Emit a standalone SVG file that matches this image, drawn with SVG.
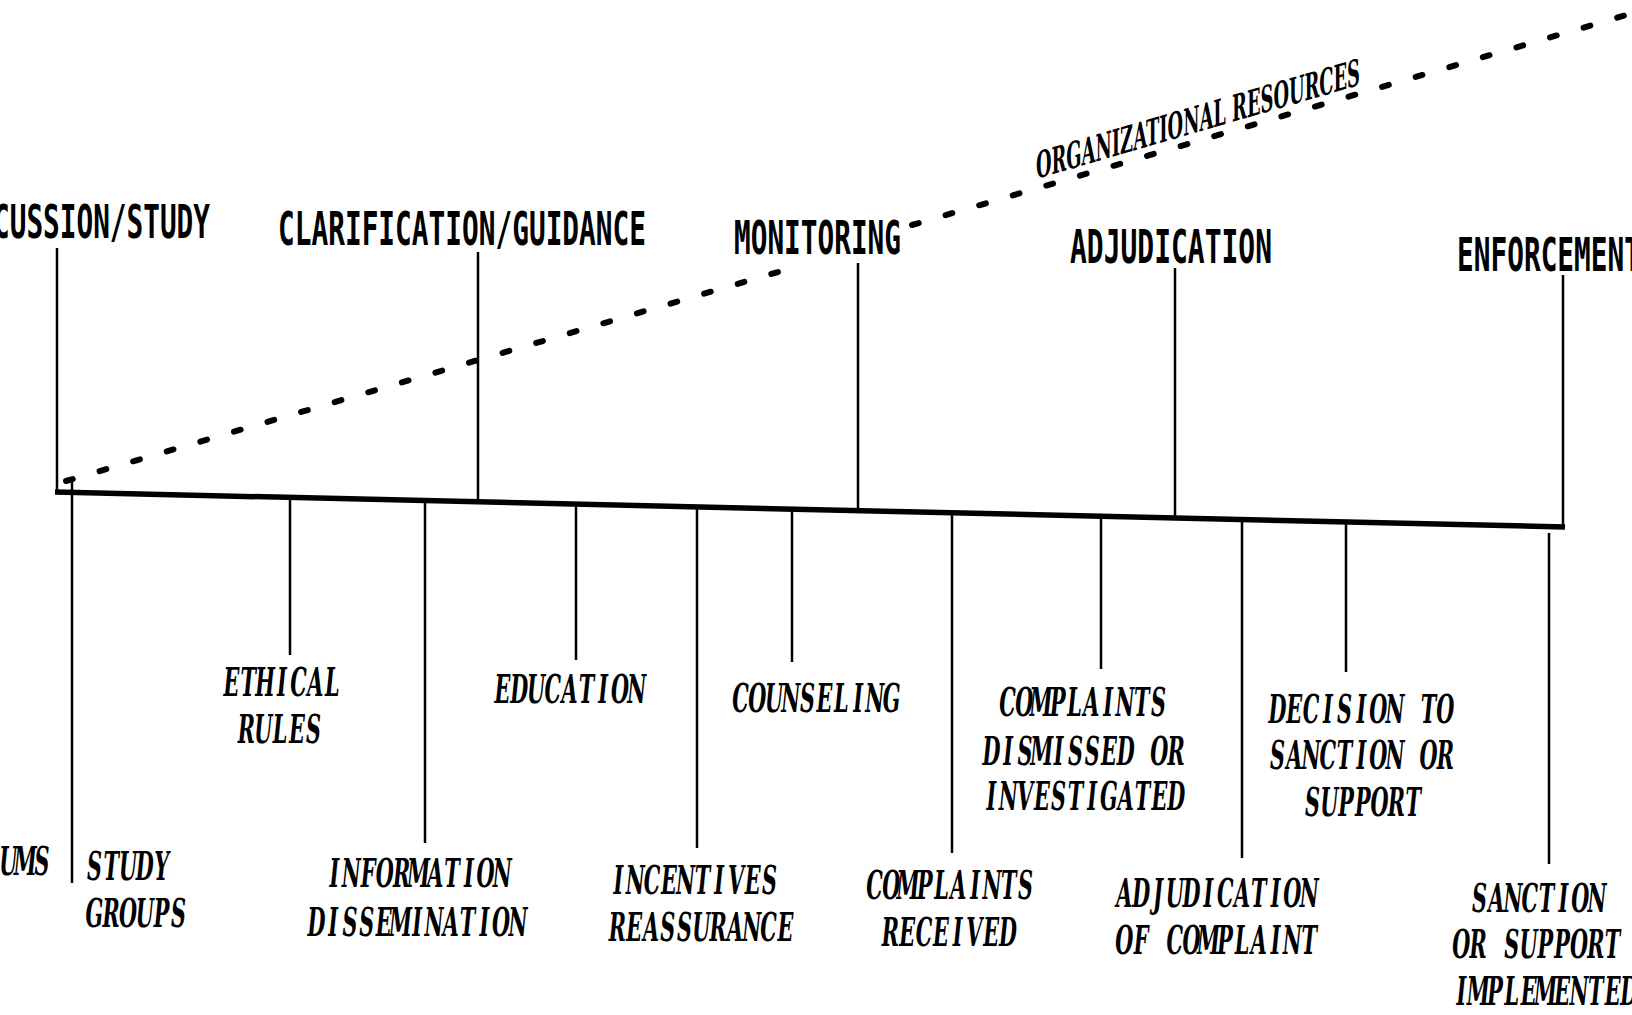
<svg xmlns="http://www.w3.org/2000/svg" width="1632" height="1015" viewBox="0 0 1632 1015">
  <style>
    .hdr { font-family: "DejaVu Sans Mono", "Liberation Mono", monospace; font-weight: bold; font-size: 46px; fill: #000; }
    /* activity labels: serif italic set on a fixed typewriter pitch (one centred cell per letter) */
    .lbl { font-family: "DejaVu Serif", "Liberation Serif", serif; font-style: italic; font-weight: bold; font-size: 40px; fill: #000; text-anchor: middle; }
    .res { font-family: "DejaVu Serif", "Liberation Serif", serif; font-weight: bold; font-size: 37px; fill: #000; }
    .axis { stroke: #000; stroke-width: 5.5; fill: none; }
    .stem { stroke: #000; stroke-width: 2.5; fill: none; }
    .dash { stroke: #000; stroke-width: 6; stroke-dasharray: 7 28; stroke-linecap: round; fill: none; }
  </style>
  <rect width="1632" height="1015" fill="#fff"/>

  <!-- connectors: sloping axis, stems above and below it, resources trend line -->
  <g id="connectors">
    <line class="axis" x1="55" y1="492" x2="1565" y2="527"/>
    <!-- stems up to the stage headings -->
    <line class="stem" x1="57" y1="248" x2="57" y2="494"/>
    <line class="stem" x1="478" y1="252" x2="478" y2="502"/>
    <line class="stem" x1="858" y1="263" x2="858" y2="511"/>
    <line class="stem" x1="1175" y1="268" x2="1175" y2="518"/>
    <line class="stem" x1="1563" y1="275" x2="1563" y2="528"/>
    <!-- stems down to the activities -->
    <line class="stem" x1="72" y1="481" x2="72" y2="883"/>
    <line class="stem" x1="290" y1="497" x2="290" y2="655"/>
    <line class="stem" x1="425" y1="500" x2="425" y2="843"/>
    <line class="stem" x1="576" y1="504" x2="576" y2="660"/>
    <line class="stem" x1="697" y1="507" x2="697" y2="848"/>
    <line class="stem" x1="792" y1="509" x2="792" y2="662"/>
    <line class="stem" x1="952" y1="513" x2="952" y2="853"/>
    <line class="stem" x1="1101" y1="516" x2="1101" y2="669"/>
    <line class="stem" x1="1242" y1="519" x2="1242" y2="858"/>
    <line class="stem" x1="1346" y1="522" x2="1346" y2="672"/>
    <line class="stem" x1="1549" y1="533" x2="1549" y2="864"/>
    <!-- organizational resources trend -->
    <path class="dash" d="M66,481 L778,272"/>
    <path class="dash" d="M912,225 L1640,11"/>
  </g>

  <!-- stage headings -->
  <g id="stage-discussion"><text class="hdr" x="-7" y="238" textLength="217" lengthAdjust="spacingAndGlyphs">CUSSION/STUDY</text></g>
  <g id="stage-clarification"><text class="hdr" x="278" y="245" textLength="368" lengthAdjust="spacingAndGlyphs">CLARIFICATION/GUIDANCE</text></g>
  <g id="stage-monitoring"><text class="hdr" x="734" y="254" textLength="167" lengthAdjust="spacingAndGlyphs">MONITORING</text></g>
  <g id="stage-adjudication"><text class="hdr" x="1070" y="263" textLength="202" lengthAdjust="spacingAndGlyphs">ADJUDICATION</text></g>
  <g id="stage-enforcement"><text class="hdr" x="1457" y="271" textLength="184" lengthAdjust="spacingAndGlyphs">ENFORCEMENT</text></g>

  <!-- trend label -->
  <g id="resources-label">
    <text class="res" transform="translate(1036,179) skewY(-16.2)" x="0" y="0" textLength="324" lengthAdjust="spacingAndGlyphs">ORGANIZATIONAL RESOURCES</text>
  </g>

  <!-- activities (each line: translate to its left edge/baseline; 16.8px pitch at 0.52 width) -->
  <g id="act-forums"><text class="lbl" transform="translate(0,875) scale(0.52 1)" x="16.2 48.5 80.8">UMS</text></g>
  <g id="act-study-groups">
    <text class="lbl" transform="translate(86,880) scale(0.52 1)" x="16.2 48.5 80.8 113.1 145.4">STUDY</text>
    <text class="lbl" transform="translate(86,927) scale(0.52 1)" x="16.2 48.5 80.8 113.1 145.4 177.7">GROUPS</text>
  </g>
  <g id="act-ethical-rules">
    <text class="lbl" transform="translate(223,696) scale(0.52 1)" x="16.2 48.5 80.8 113.1 145.4 177.7 210">ETHICAL</text>
    <text class="lbl" transform="translate(238,743) scale(0.52 1)" x="16.2 48.5 80.8 113.1 145.4">RULES</text>
  </g>
  <g id="act-information">
    <text class="lbl" transform="translate(326,887) scale(0.52 1)" x="16.2 48.5 80.8 113.1 145.4 177.7 210 242.3 274.6 306.9 339.2">INFORMATION</text>
    <text class="lbl" transform="translate(308,936) scale(0.52 1)" x="16.2 48.5 80.8 113.1 145.4 177.7 210 242.3 274.6 306.9 339.2 371.5 403.8">DISSEMINATION</text>
  </g>
  <g id="act-education"><text class="lbl" transform="translate(494,703) scale(0.52 1)" x="16.2 48.5 80.8 113.1 145.4 177.7 210 242.3 274.6">EDUCATION</text></g>
  <g id="act-incentives">
    <text class="lbl" transform="translate(610,894) scale(0.52 1)" x="16.2 48.5 80.8 113.1 145.4 177.7 210 242.3 274.6 306.9">INCENTIVES</text>
    <text class="lbl" transform="translate(609,941) scale(0.52 1)" x="16.2 48.5 80.8 113.1 145.4 177.7 210 242.3 274.6 306.9 339.2">REASSURANCE</text>
  </g>
  <g id="act-counseling"><text class="lbl" transform="translate(732,712) scale(0.52 1)" x="16.2 48.5 80.8 113.1 145.4 177.7 210 242.3 274.6 306.9">COUNSELING</text></g>
  <g id="act-complaints-received">
    <text class="lbl" transform="translate(866,899) scale(0.52 1)" x="16.2 48.5 80.8 113.1 145.4 177.7 210 242.3 274.6 306.9">COMPLAINTS</text>
    <text class="lbl" transform="translate(882,946) scale(0.52 1)" x="16.2 48.5 80.8 113.1 145.4 177.7 210 242.3">RECEIVED</text>
  </g>
  <g id="act-complaints-dismissed">
    <text class="lbl" transform="translate(999,716) scale(0.52 1)" x="16.2 48.5 80.8 113.1 145.4 177.7 210 242.3 274.6 306.9">COMPLAINTS</text>
    <text class="lbl" transform="translate(983,765) scale(0.52 1)" x="16.2 48.5 80.8 113.1 145.4 177.7 210 242.3 274.6 306.9 339.2 371.5">DISMISSED OR</text>
    <text class="lbl" transform="translate(983,810) scale(0.52 1)" x="16.2 48.5 80.8 113.1 145.4 177.7 210 242.3 274.6 306.9 339.2 371.5">INVESTIGATED</text>
  </g>
  <g id="act-adjudication">
    <text class="lbl" transform="translate(1116,907) scale(0.52 1)" x="16.2 48.5 80.8 113.1 145.4 177.7 210 242.3 274.6 306.9 339.2 371.5">ADJUDICATION</text>
    <text class="lbl" transform="translate(1116,954) scale(0.52 1)" x="16.2 48.5 80.8 113.1 145.4 177.7 210 242.3 274.6 306.9 339.2 371.5">OF COMPLAINT</text>
  </g>
  <g id="act-decision">
    <text class="lbl" transform="translate(1269,723) scale(0.52 1)" x="16.2 48.5 80.8 113.1 145.4 177.7 210 242.3 274.6 306.9 339.2">DECISION TO</text>
    <text class="lbl" transform="translate(1269,769) scale(0.52 1)" x="16.2 48.5 80.8 113.1 145.4 177.7 210 242.3 274.6 306.9 339.2">SANCTION OR</text>
    <text class="lbl" transform="translate(1304,816) scale(0.52 1)" x="16.2 48.5 80.8 113.1 145.4 177.7 210">SUPPORT</text>
  </g>
  <g id="act-sanction">
    <text class="lbl" transform="translate(1471,912) scale(0.52 1)" x="16.2 48.5 80.8 113.1 145.4 177.7 210 242.3">SANCTION</text>
    <text class="lbl" transform="translate(1453,958) scale(0.52 1)" x="16.2 48.5 80.8 113.1 145.4 177.7 210 242.3 274.6 306.9">OR SUPPORT</text>
    <text class="lbl" transform="translate(1453,1005) scale(0.52 1)" x="16.2 48.5 80.8 113.1 145.4 177.7 210 242.3 274.6 306.9 339.2">IMPLEMENTED</text>
  </g>
</svg>
